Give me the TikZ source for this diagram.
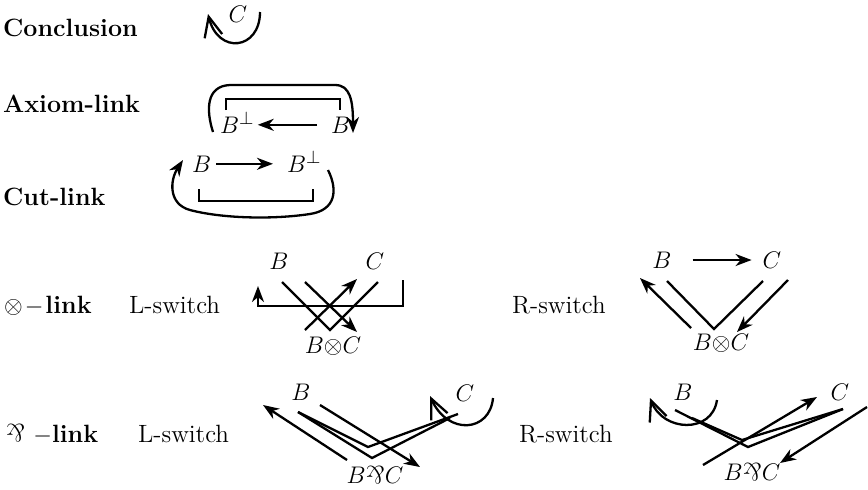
\documentclass[tikz,border=0pt]{standalone}
\usetikzlibrary{arrows.meta}
\usepackage{graphicx}
\newcommand{\parrsym}{\rotatebox[origin=c]{180}{\&}}
\newcommand{\parrop}{{\parrsym}}
\begin{document}
\begin{tikzpicture}[x=0.5pt,y=-0.5pt, line width=1.15pt,
  font=\fontsize{12.5}{15}\selectfont,
  every node/.style={inner sep=0pt},
  lbl/.style={anchor=base west},
  arr/.style={-{Stealth[length=8pt,width=6pt,inset=2.5pt]}},
  barb/.style={-{Straight Barb[length=10pt,width=9pt]}}]
\useasboundingbox (0,0) rectangle (868,489);

% Conclusion
\node[lbl] (lconc) at (2,36) {\textbf{Conclusion}};
\node (cC) at (238,14) {$C$};
\draw[barb] (260,12) .. controls (260,50) and (218,55) .. (208,14);

% Axiom-link
\node[lbl] (lax) at (2,112) {\textbf{Axiom-link}};
\node[anchor=base west] (axBp) at (219,133) {$B^{\perp}$};
\node[anchor=base west] (axB) at (330,133) {$B$};
\draw[arr, shorten <=6.5pt] (axB.west) -- ([xshift=1pt]axBp.east |- axB.west);
\draw (226,110) -- (226,99) -- (340,99) -- (340,110);
\draw[arr] (213,132) .. controls (206,110) and (206,86) .. (230,85) -- (335,85) .. controls (350,85) and (353,100) .. (353,133);

% Cut-link
\node[lbl] (lcut) at (2,205) {\textbf{Cut-link}};
\node[anchor=base west] (cuB) at (191,172) {$B$};
\node[anchor=base west] (cuBp) at (286,172) {$B^{\perp}$};
\draw[arr, shorten <=2pt, shorten >=6.5pt] (cuB.east) -- (cuBp.west |- cuB.east);
\draw (199,189) -- (199,201) -- (313,201) -- (313,189);
\draw[arr] (328,170) .. controls (338,190) and (336,210) .. (310,214) .. controls (270,220) and (220,218) .. (190,210) .. controls (168,204) and (170,180) .. (183,160);

% Tensor link
\node[lbl] (lten) at (3,313) {$\otimes$\kern1pt$-$\kern1pt\textbf{link}};
\node[lbl] (ltenL) at (128,313) {L-switch};
\node (tLB) at (279,261) {$B$};
\node (tLC) at (375,261) {$C$};
\node (tLBC) at (333,346) {$B{\otimes}C$};
\draw[arr] (403,280) -- (403,306) -- (258,306) -- (258,286);
\draw (282,282) -- (330,330) -- (378,282);
\draw[arr] (305,282) -- (357,332);
\draw[arr] (305,330) -- (357,279);

\node[lbl] (ltenR) at (511,313) {R-switch};
\node (tRB) at (662,260) {$B$};
\node (tRC) at (772,260) {$C$};
\node (tRBC) at (721,343) {$B{\otimes}C$};
\draw[arr, shorten <=10pt, shorten >=5pt] (tRB.east) -- (tRC.west);
\draw (667,281) -- (714,329) -- (763,281);
\draw[arr] (691,328) -- (640,278);
\draw[arr] (788,280) -- (737,332);

% Par link
\node[lbl] (lpar) at (5,442) {\parrsym\ $-$\textbf{link}};
\node[lbl] (lparL) at (137,442) {L-switch};
\node (pLB) at (301,392) {$B$};
\node (pLC) at (465,393) {$C$};
\node (pLBC) at (375,475) {$B\parrop C$};
\draw[arr] (347,460) -- (263,405);
\draw (298,412) -- (372,458) -- (450,418);
\draw (298,412) -- (368,447) -- (458,414);
\draw[arr] (320,405) -- (420,467);
\draw[barb] (493,398) .. controls (490,432) and (448,436) .. (430,396);

\node[lbl] (lparR) at (518,442) {R-switch};
\node (pRB) at (683,392) {$B$};
\node (pRC) at (840,392) {$C$};
\node (pRBC) at (752,472) {$B\parrop C$};
\draw[barb] (717,400) .. controls (712,434) and (663,432) .. (650,398);
\draw (675,410) -- (748,447) -- (843,409);
\draw (692,418) -- (742,440) -- (843,409);
\draw[arr] (703,465) -- (817,397);
\draw[arr] (867,407) -- (780,463);
\end{tikzpicture}
\end{document}
